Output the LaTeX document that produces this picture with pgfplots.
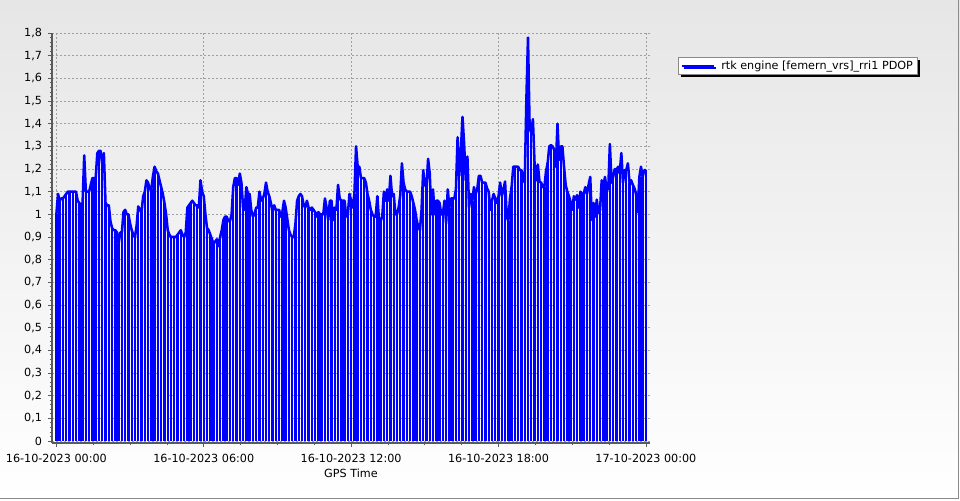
\documentclass[border=0pt]{standalone}
\usepackage{fontspec}
\setmainfont{DejaVu Sans}
\usepackage{pgfplots}
\pgfplotsset{compat=1.18}
\usepackage{pgfplotstable}
\usetikzlibrary{shadows}
\definecolor{gridc}{HTML}{A0A0A0}
\definecolor{axc}{HTML}{5A5A5A}
\definecolor{bgtop}{HTML}{E6E6E6}
\definecolor{frame}{HTML}{8A8A8A}

\pgfplotstableread[row sep=\\]{
t v\\
0 1.00\\ 4 1.09\\ 8 1.06\\ 12 1.07\\ 16 1.07\\ 20 1.08\\ 24 1.09\\ 28 1.10\\
32 1.10\\ 36 1.10\\ 40 1.10\\ 44 1.10\\ 48 1.10\\ 52 1.06\\ 56 1.05\\ 60 1.04\\
64 1.05\\ 68 1.26\\ 72 1.10\\ 76 1.10\\ 80 1.10\\ 84 1.13\\ 88 1.16\\ 92 1.16\\
96 1.16\\ 100 1.27\\ 104 1.28\\ 108 1.28\\ 112 1.22\\ 116 1.27\\ 120 1.05\\ 124 1.04\\
128 1.04\\ 132 0.97\\ 136 0.94\\ 140 0.93\\ 144 0.93\\ 148 0.92\\ 152 0.87\\ 156 0.92\\
160 0.92\\ 164 1.01\\ 168 1.02\\ 172 1.00\\ 176 1.00\\ 180 0.96\\ 184 0.93\\ 188 0.91\\
192 0.90\\ 196 0.95\\ 200 1.035\\ 204 1.02\\ 208 1.01\\ 212 1.08\\ 216 1.10\\ 220 1.15\\
224 1.14\\ 228 1.11\\ 232 1.11\\ 236 1.17\\ 240 1.21\\ 244 1.19\\ 248 1.18\\ 252 1.15\\
256 1.12\\ 260 1.09\\ 264 1.05\\ 268 1.00\\ 272 0.93\\ 276 0.91\\ 280 0.90\\ 284 0.90\\
288 0.90\\ 292 0.90\\ 296 0.91\\ 300 0.92\\ 304 0.93\\ 308 0.91\\ 312 0.90\\ 316 0.92\\
320 1.03\\ 324 1.04\\ 328 1.05\\ 332 1.06\\ 336 1.05\\ 340 1.04\\ 344 1.04\\ 348 1.03\\
352 1.15\\ 356 1.10\\ 360 1.08\\ 364 1.00\\ 368 0.94\\ 372 0.93\\ 376 0.91\\ 380 0.89\\
384 0.87\\ 388 0.88\\ 392 0.89\\ 396 0.86\\ 400 0.90\\ 404 0.93\\ 408 0.975\\ 412 0.99\\
416 0.99\\ 420 0.97\\ 424 0.97\\ 428 1.00\\ 432 1.12\\ 436 1.16\\ 440 1.16\\ 444 1.13\\
448 1.18\\ 452 1.14\\ 456 1.03\\ 460 1.02\\ 464 1.12\\ 468 1.09\\ 472 1.09\\ 476 1.02\\
480 0.99\\ 484 1.00\\ 488 1.03\\ 492 1.03\\ 496 1.10\\ 500 1.06\\ 504 1.07\\ 508 1.09\\
512 1.14\\ 516 1.10\\ 520 1.08\\ 524 1.05\\ 528 1.01\\ 532 1.04\\ 536 1.02\\ 540 1.02\\
544 1.02\\ 548 0.99\\ 552 1.01\\ 556 1.06\\ 560 1.03\\ 564 0.98\\ 568 0.93\\ 572 0.91\\
576 0.90\\ 580 0.90\\ 584 0.96\\ 588 1.06\\ 592 1.08\\ 596 1.09\\ 600 1.08\\ 604 1.04\\
608 1.03\\ 612 1.06\\ 616 1.03\\ 620 1.02\\ 624 1.03\\ 628 1.02\\ 632 1.01\\ 636 0.99\\
640 1.01\\ 644 1.00\\ 648 1.00\\ 652 1.00\\ 656 1.07\\ 660 1.03\\ 664 0.975\\ 668 1.06\\
672 1.06\\ 676 0.975\\ 680 1.03\\ 684 1.02\\ 688 1.13\\ 692 1.07\\ 696 1.06\\ 700 1.06\\
704 1.06\\ 708 0.99\\ 712 1.00\\ 716 1.09\\ 720 1.06\\ 724 1.03\\ 728 1.09\\ 732 1.30\\
736 1.21\\ 740 1.21\\ 744 1.16\\ 748 1.16\\ 752 1.16\\ 756 1.14\\ 760 1.09\\ 764 1.06\\
768 1.02\\ 772 1.00\\ 776 0.99\\ 780 0.99\\ 784 1.08\\ 788 0.975\\ 792 0.97\\ 796 0.99\\
800 1.10\\ 804 1.06\\ 808 1.11\\ 812 1.06\\ 816 1.17\\ 820 1.08\\ 824 1.09\\ 828 1.00\\
832 1.00\\ 836 1.03\\ 840 1.085\\ 844 1.225\\ 848 1.14\\ 852 1.11\\ 856 1.10\\ 860 1.10\\
864 1.10\\ 868 1.08\\ 872 1.05\\ 876 1.02\\ 880 0.975\\ 884 0.945\\ 888 0.93\\ 892 1.02\\
896 1.195\\ 900 1.13\\ 904 1.12\\ 908 1.245\\ 912 1.18\\ 916 1.00\\ 920 1.11\\ 924 1.00\\
928 1.06\\ 932 1.06\\ 936 1.05\\ 940 1.00\\ 944 1.00\\ 948 1.06\\ 952 0.96\\ 956 1.11\\
960 1.03\\ 964 1.07\\ 968 1.07\\ 972 1.07\\ 976 1.11\\ 980 1.34\\ 984 1.17\\ 988 1.28\\
992 1.43\\ 996 1.31\\ 1000 1.15\\ 1004 1.255\\ 1008 1.03\\ 1012 1.09\\ 1016 1.06\\ 1020 1.12\\
1024 1.09\\ 1028 1.11\\ 1032 1.17\\ 1036 1.17\\ 1040 1.14\\ 1044 1.14\\ 1048 1.14\\ 1052 1.115\\
1056 1.10\\ 1060 1.02\\ 1064 1.06\\ 1068 1.09\\ 1072 1.07\\ 1076 1.05\\ 1080 1.08\\ 1084 1.14\\
1088 1.08\\ 1092 1.11\\ 1096 1.145\\ 1100 0.99\\ 1104 0.97\\ 1108 1.07\\ 1112 1.12\\ 1116 1.21\\
1120 1.21\\ 1124 1.21\\ 1128 1.21\\ 1132 1.195\\ 1136 1.195\\ 1140 1.165\\ 1144 1.14\\ 1148 1.505\\
1152 1.78\\ 1156 1.38\\ 1160 1.36\\ 1164 1.42\\ 1168 1.225\\ 1172 1.15\\ 1176 1.22\\ 1180 1.145\\
1184 1.14\\ 1188 1.12\\ 1192 1.12\\ 1196 1.19\\ 1200 1.225\\ 1204 1.30\\ 1208 1.305\\ 1212 1.30\\
1216 1.285\\ 1220 1.21\\ 1224 1.40\\ 1228 1.24\\ 1232 1.30\\ 1236 1.30\\ 1240 1.21\\ 1244 1.13\\
1248 1.10\\ 1252 1.08\\ 1256 1.055\\ 1260 1.02\\ 1264 1.08\\ 1268 1.065\\ 1272 1.085\\ 1276 1.03\\
1280 1.10\\ 1284 1.09\\ 1288 1.09\\ 1292 1.12\\ 1296 1.09\\ 1300 1.13\\ 1304 1.165\\ 1308 0.975\\
1312 1.05\\ 1316 0.99\\ 1320 1.065\\ 1324 1.005\\ 1328 1.02\\ 1332 1.15\\ 1336 1.12\\ 1340 1.165\\
1344 1.11\\ 1348 1.11\\ 1352 1.31\\ 1356 1.14\\ 1360 1.165\\ 1364 1.20\\ 1368 1.195\\ 1372 1.21\\
1376 1.18\\ 1380 1.27\\ 1384 1.14\\ 1388 1.195\\ 1392 1.195\\ 1396 1.225\\ 1400 1.14\\ 1404 1.15\\
1408 1.13\\ 1412 1.115\\ 1416 1.09\\ 1420 1.01\\ 1424 1.165\\ 1428 1.21\\ 1432 1.165\\ 1436 1.195\\
1440 1.195\\
}\pdopdata

\begin{document}
\begin{tikzpicture}[x=1pt,y=1pt,font=\fontsize{8.4}{10}\selectfont]
\shade[top color=bgtop, bottom color=white] (0,0) rectangle (720,375);
\useasboundingbox (0,0) rectangle (720,375);
\draw[frame, line width=0.75pt] (719.1,375) -- (719.1,1.1) -- (0,1.1);
\begin{axis}[
  at={(39pt,42.75pt)}, anchor=south west,
  scale only axis, width=448.5pt, height=307.5pt,
  xmin=-10.7, xmax=1450, ymin=-0.0088, ymax=1.8,
  axis lines*=left,
  axis line style={axc, line width=1.5pt},
  tick align=outside,
  major tick length=3pt, minor tick length=1.5pt,
  tick style={axc, line width=0.6pt},
  xtick={0,360,720,1080,1440},
  xticklabels={16-10-2023 00:00,16-10-2023 06:00,16-10-2023 12:00,16-10-2023 18:00,17-10-2023 00:00},
  minor x tick num=3,
  ytick={0,0.1,0.2,0.3,0.4,0.5,0.6,0.7,0.8,0.9,1,1.1,1.2,1.3,1.4,1.5,1.6,1.7,1.8},
  minor y tick num=4,
  yticklabel style={/pgf/number format/.cd, fixed, precision=1, use comma, assume math mode=true},
  xticklabel shift=2pt,
  yticklabel shift=1pt,
  grid=major,
  major grid style={gridc, dash pattern=on 1.5pt off 1.5pt, line width=0.6pt},
  xlabel={GPS Time},
  xlabel style={at={(axis description cs:0.5,0)}, anchor=center, yshift=-22.5pt},
  legend style={at={(axis description cs:1.0468,0.9415)}, anchor=north west,
    draw=frame, fill=white, line width=0.75pt, inner xsep=1.5pt, inner ysep=0.5pt,
    drop shadow={shadow xshift=1.6pt, shadow yshift=-1.6pt, opacity=1, fill=black},
    /tikz/every odd column/.append style={column sep=3pt},
    font=\fontsize{8.4}{10}\selectfont},
  legend cell align=left,
  legend image code/.code={\draw[blue, line width=1.6pt] (0pt,0pt) -- (24pt,0pt);},
]
\addplot[blue, line width=1.9pt, line join=round] table[x=t,y=v] {\pdopdata};
\addlegendentry{rtk engine [femern\_vrs]\_rri1 PDOP\hspace{5pt}}
\addplot[blue, ycomb, line width=1.8pt, each nth point=2, filter discard warning=false, forget plot] table[x=t,y=v] {\pdopdata};
\end{axis}
\end{tikzpicture}
\end{document}
